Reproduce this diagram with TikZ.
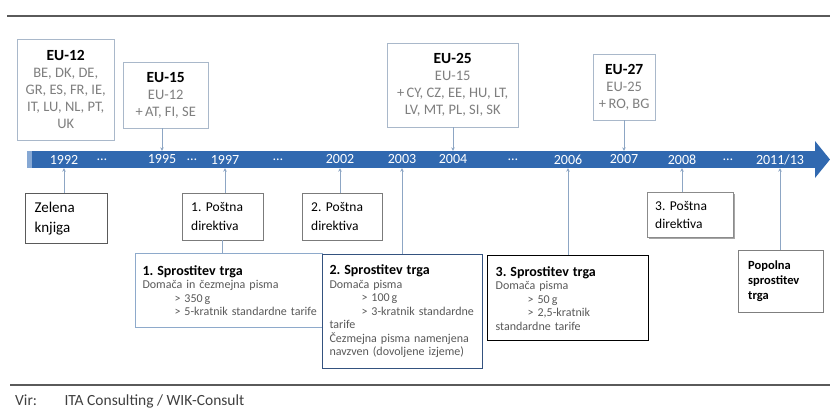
\documentclass[tikz,border=0pt]{standalone}
\usepackage{fontspec}
\setmainfont{Carlito}
\usetikzlibrary{positioning,arrows.meta,shadows}
\definecolor{barblue}{HTML}{3169B0}
\definecolor{barlight}{HTML}{86A8D4}
\definecolor{framegray}{HTML}{A9B8CA}
\definecolor{linkblue}{HTML}{8DA6C4}
\definecolor{textgray}{HTML}{7F7F7F}
\definecolor{bodygray}{HTML}{595959}
\definecolor{rulegray}{HTML}{5A5A5A}
\definecolor{lightframe}{HTML}{8EAACB}
\definecolor{darkframe}{HTML}{34527F}

\newcommand{\eutitle}[1]{{\fontsize{15.5}{18}\selectfont\bfseries\color{black}#1}}
\newcommand{\libtitle}[1]{{\fontsize{14}{16}\selectfont\bfseries\color{black}#1}}
\newcommand{\ind}{\hspace*{32pt}}
\frenchspacing

\begin{document}
\begin{tikzpicture}[x=1pt, y=-1pt,
  eubox/.style={draw=framegray, fill=white, align=center, inner sep=1pt, anchor=north west,
    text=textgray, font=\fontsize{14.5}{17}\selectfont},
  yr/.style={text=white, inner sep=0pt, minimum height=17pt, font=\fontsize{14}{15}\selectfont},
  notebox/.style={draw=rulegray, fill=white, align=left, anchor=north west, inner xsep=9pt,
    font=\fontsize{15}{20}\selectfont},
  relbox/.style={fill=white, align=left, anchor=north west, inner xsep=8pt, text=bodygray,
    font=\fontsize{12}{13.5}\selectfont},
  conn/.style={draw=linkblue, semithick, -{Stealth[length=3.5pt, width=3.5pt]}},
  link/.style={draw=linkblue, semithick},
  rule/.style={draw=rulegray, line width=2.4pt},
  src/.style={text=rulegray!70!black, inner sep=0pt, anchor=base west, font=\fontsize{15.5}{17}\selectfont}
]
\useasboundingbox (0,0) rectangle (830,410);

% rules at top and bottom
\draw[rule] (7,16) -- (830,16);
\draw[rule] (10,385) -- (830,385);

% timeline bar
\fill[barblue] (27,151) rectangle (818,168);
\fill[barblue] (815,141) -- (830,159.5) -- (815,178) -- cycle;
\fill[barlight] (27,151) rectangle (32,168);

\node[yr] (y1992) at (64,159.5) {1992};
\node[yr] (d1) at (102,159.5) {…};
\node[yr] (y1995) at (162,159.5) {1995};
\node[yr] (d2) at (192,159.5) {…};
\node[yr] (y1997) at (225,159.5) {1997};
\node[yr] (d3) at (278,159.5) {…};
\node[yr] (y2002) at (340,159.5) {2002};
\node[yr] (y2003) at (402,159.5) {2003};
\node[yr] (y2004) at (453,159.5) {2004};
\node[yr] (d4) at (513,159.5) {…};
\node[yr] (y2006) at (568,159.5) {2006};
\node[yr] (y2007) at (624,159.5) {2007};
\node[yr] (y2008) at (682,159.5) {2008};
\node[yr] (d5) at (728,159.5) {…};
\node[yr] (y2011) at (780,159.5) {2011/13};

% enlargement boxes
\node[eubox, minimum width=97pt, minimum height=101pt] (eu12) at (17,39)
  {\eutitle{EU-12}\\BE, DK, DE,\\GR, ES, FR, IE,\\IT, LU, NL, PT,\\UK};
\node[eubox, minimum width=85pt, minimum height=66pt] (eu15) at (123,62)
  {\eutitle{EU-15}\\EU-12\\+\,AT, FI, SE};
\node[eubox, minimum width=131pt, minimum height=84pt] (eu25) at (387,43)
  {\eutitle{EU-25}\\EU-15\\+\,CY, CZ, EE, HU, LT,\\LV, MT, PL, SI, SK};
\node[eubox, minimum width=62pt, minimum height=66pt] (eu27) at (593,54)
  {\eutitle{EU-27}\\EU-25\\+\,RO, BG};

\draw[conn] (eu15.south -| y1995) -- (y1995.north);
\draw[conn] (eu25.south -| y2004) -- (y2004.north);
\draw[conn] (eu27.south -| y2007) -- (y2007.north);

% documents and directives
\node[notebox, line width=1pt, minimum width=82pt, minimum height=50pt, text width=64pt] (green) at (25,193)
  {Zelena\\knjiga};
\node[notebox, draw=rulegray!80, font=\fontsize{13.5}{19}\selectfont, minimum width=81pt, minimum height=47pt, text width=63pt] (dir1) at (182,193)
  {1. Poštna\\direktiva};
\node[notebox, draw=rulegray!80, font=\fontsize{13.5}{19}\selectfont, minimum width=80pt, minimum height=47pt, text width=62pt] (dir2) at (302,193)
  {2. Poštna\\direktiva};
\node[notebox, draw=rulegray!70, font=\fontsize{13.5}{18}\selectfont, inner xsep=8pt, minimum width=86pt, minimum height=45pt, text width=70pt,
  drop shadow={shadow xshift=1.5pt, shadow yshift=-1.5pt, fill=black!35, opacity=1}] (dir3) at (647,192)
  {3. Poštna\\direktiva};

\draw[conn] (green.north -| y1992) -- (y1992.south);
\draw[conn] (dir1.north -| y1997) -- (y1997.south);
\draw[conn] (dir2.north -| y2002) -- (y2002.south);
\draw[conn] (dir3.north -| y2008) -- (y2008.south);

% market liberalisation steps
\node[relbox, draw=lightframe, line width=1pt, minimum width=187pt, minimum height=74pt, inner xsep=7pt, text width=173pt] (lib1) at (135,253)
  {\libtitle{1. Sprostitev trga}\\
   Domača in čezmejna pisma\\
   \ind> 350\,g\\
   \ind\mbox{> 5-kratnik standardne tarife}};
\node[relbox, draw=darkframe, line width=1pt, minimum width=160pt, minimum height=114pt, text width=146pt, inner xsep=7pt] (lib2) at (322,254)
  {\libtitle{2. Sprostitev trga}\\
   Domača pisma\\
   \ind> 100\,g\\
   \ind\mbox{> 3-kratnik standardne}\\
   tarife\\
   \mbox{Čezmejna pisma namenjena}\\
   \mbox{navzven (dovoljene izjeme)}};
\node[relbox, draw=black, line width=1.3pt, minimum width=161pt, minimum height=85pt, text width=145pt] (lib3) at (487,255)
  {\libtitle{3. Sprostitev trga}\\
   Domača pisma\\
   \ind> 50\,g\\
   \ind> 2,5-kratnik\\
   standardne tarife};
\node[notebox, draw=textgray, font=\fontsize{12.5}{15}\selectfont\bfseries, inner xsep=10pt, minimum width=85pt, minimum height=62pt, text width=65pt] (full) at (738,250)
  {Popolna\\sprostitev\\trga};

\draw[link] (dir1.south) -- (dir1.south |- lib1.north);
\draw[conn] (lib2.north -| y2003) -- (y2003.south);
\draw[conn] (lib3.north -| y2006) -- (y2006.south);
\draw[conn] (full.north -| y2011) -- (y2011.south);

% source line
\node[src] (vir) at (15,405) {Vir:};
\node[src, right=27pt of vir.base east, anchor=base west] (source) {ITA Consulting / WIK-Consult};
\end{tikzpicture}
\end{document}
